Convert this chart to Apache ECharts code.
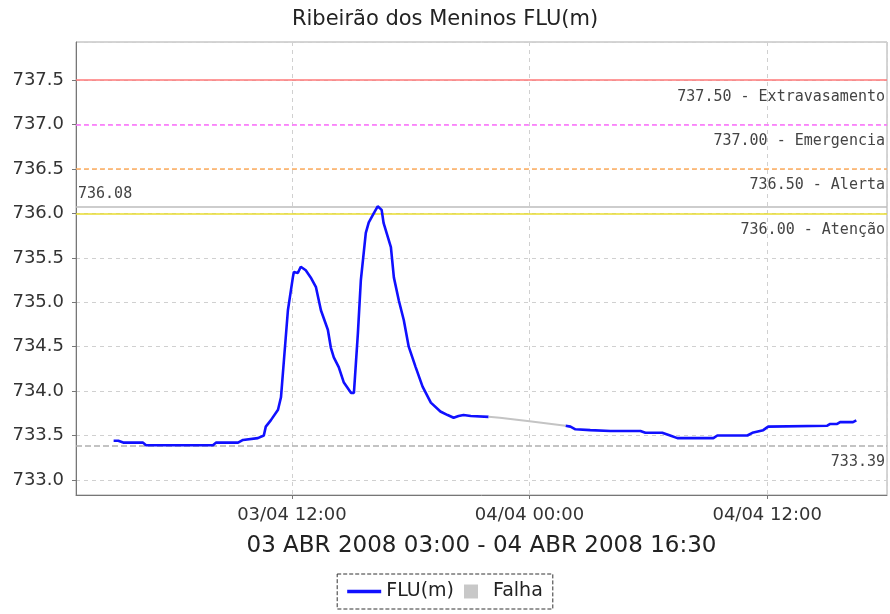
<!DOCTYPE html>
<html>
<head>
<meta charset="utf-8">
<script src="https://cdn.jsdelivr.net/npm/echarts@6/dist/echarts.min.js"></script>
<style>html,body{margin:0;padding:0;background:#fff}#c{width:890px;height:614px}</style>
</head>
<body>
<div id="c"></div>
<script>
const titleText = 'Ribeirão dos Meninos FLU(m)';
const xAxisName = '03 ABR 2008 03:00 - 04 ABR 2008 16:30';
const seriesNames = ['FLU(m)', 'Falha'];

const fluTimes = [
  '2008-04-03 03:00','2008-04-03 03:14','2008-04-03 03:29','2008-04-03 04:29','2008-04-03 04:38',
  '2008-04-03 08:01','2008-04-03 08:10','2008-04-03 09:17','2008-04-03 09:32','2008-04-03 10:17',
  '2008-04-03 10:35','2008-04-03 10:41','2008-04-03 10:56','2008-04-03 11:18','2008-04-03 11:27',
  '2008-04-03 11:36','2008-04-03 11:48','2008-04-03 12:03','2008-04-03 12:06','2008-04-03 12:18',
  '2008-04-03 12:27','2008-04-03 12:42','2008-04-03 12:57','2008-04-03 13:13','2008-04-03 13:28',
  '2008-04-03 13:49','2008-04-03 13:58','2008-04-03 14:07','2008-04-03 14:22','2008-04-03 14:37',
  '2008-04-03 14:59','2008-04-03 15:08','2008-04-03 15:20','2008-04-03 15:29','2008-04-03 15:44',
  '2008-04-03 15:53','2008-04-03 16:08','2008-04-03 16:20','2008-04-03 16:32','2008-04-03 16:38',
  '2008-04-03 17:00','2008-04-03 17:09','2008-04-03 17:24','2008-04-03 17:39','2008-04-03 17:54',
  '2008-04-03 18:15','2008-04-03 18:36','2008-04-03 19:01','2008-04-03 19:30','2008-04-03 19:52',
  '2008-04-03 20:10','2008-04-03 20:25','2008-04-03 20:40','2008-04-03 21:02','2008-04-03 21:56',
  '2008-04-03 23:50',
  '2008-04-04 01:49','2008-04-04 02:04','2008-04-04 02:19','2008-04-04 03:04','2008-04-04 04:05',
  '2008-04-04 05:36','2008-04-04 05:51','2008-04-04 06:42','2008-04-04 07:06','2008-04-04 07:28',
  '2008-04-04 09:17','2008-04-04 09:29','2008-04-04 11:00','2008-04-04 11:15','2008-04-04 11:48',
  '2008-04-04 12:03','2008-04-04 15:02','2008-04-04 15:11','2008-04-04 15:32','2008-04-04 15:41',
  '2008-04-04 16:20','2008-04-04 16:30'
];
const fluValues = [
  733.44,733.44,733.42,733.42,733.39,
  733.39,733.42,733.42,733.45,733.47,
  733.50,733.60,733.67,733.79,733.93,
  734.35,734.91,735.28,735.34,735.33,
  735.40,735.36,735.28,735.17,734.91,
  734.69,734.49,734.38,734.27,734.10,
  733.98,733.98,734.65,735.25,735.78,
  735.90,736.00,736.08,736.04,735.89,
  735.62,735.28,735.02,734.80,734.50,
  734.27,734.05,733.87,733.77,733.73,
  733.70,733.72,733.73,733.72,733.71,
  null,
  733.61,733.60,733.57,733.56,733.55,
  733.55,733.53,733.53,733.50,733.47,
  733.47,733.50,733.50,733.53,733.56,
  733.60,733.61,733.63,733.63,733.65,
  733.65,733.67
];

const falhaTimes = ['2008-04-03 21:56','2008-04-03 22:30','2008-04-04 00:00','2008-04-04 01:49'];
const falhaValues = [733.71, 733.70, 733.66, 733.61];

const limitValues = [737.50, 737.00, 736.50, 736.00];
const limitLabels = ['737.50 - Extravasamento', '737.00 - Emergencia', '736.50 - Alerta', '736.00 - Atenção'];
const maxValue = 736.08;
const minValue = 733.39;

const xMin = '2008-04-03 01:06';
const xMax = '2008-04-04 18:03';
const yMin = 732.83;
const yMax = 737.93;

const limitColors = ['#ff7878', '#ff70ff', '#ffae60', '#e8dc30'];
const limitTypes = ['solid', [5, 3], [5, 3], 'solid'];

const fluData = fluTimes.map((t, i) => [t, fluValues[i]]);
const falhaData = falhaTimes.map((t, i) => [t, falhaValues[i]]);

const labelFont = { fontFamily: 'DejaVu Sans Mono', fontSize: 15, color: '#444' };

const markLines = [];
markLines.push({
  yAxis: maxValue,
  lineStyle: { color: '#bdbdbd', type: 'solid', width: 1.5 },
  label: Object.assign({ show: true, position: 'insideStartTop', formatter: maxValue.toFixed(2), distance: [2, 5] }, labelFont)
});
markLines.push({
  yAxis: minValue,
  lineStyle: { color: '#b0b0b0', type: [6, 3], width: 1.5 },
  label: Object.assign({ show: true, position: 'insideEndBottom', formatter: minValue.toFixed(2), distance: [2, 9] }, labelFont)
});
limitValues.forEach((v, i) => markLines.push({
  yAxis: v,
  lineStyle: { color: limitColors[i], type: limitTypes[i], width: 1.5, opacity: 1 },
  label: Object.assign({ show: true, position: 'insideEndBottom', formatter: limitLabels[i], distance: [2, 9] }, labelFont)
}));

const chart = echarts.init(document.getElementById('c'));
chart.setOption({
  animation: false,
  backgroundColor: '#fff',
  title: {
    text: titleText, left: 'center', top: 4,
    textStyle: { fontFamily: 'DejaVu Sans', fontSize: 21, fontWeight: 'normal', color: '#222' }
  },
  grid: { left: 76, top: 42, right: 3, bottom: 119, show: true, borderColor: '#aaa', borderWidth: 1, outerBoundsMode: 'none', containLabel: false },
  xAxis: {
    type: 'time', min: xMin, max: xMax, splitNumber: 3,
    name: xAxisName, nameLocation: 'middle', nameGap: 40,
    nameTextStyle: { fontFamily: 'DejaVu Sans', fontSize: 23, color: '#222' },
    axisLine: { lineStyle: { color: '#777' } },
    axisTick: { show: true, length: 4, lineStyle: { color: '#777' } },
    axisLabel: {
      fontFamily: 'DejaVu Sans', fontSize: 18, color: '#333', margin: 11,
      formatter: (v) => echarts.time.format(v, '{dd}/{MM} {HH}:{mm}', false),
      showMinLabel: false, showMaxLabel: false
    },
    splitLine: { show: true, lineStyle: { color: '#d0d0d0', type: [4, 4] } }
  },
  yAxis: {
    type: 'value', min: yMin, max: yMax, splitNumber: 10,
    axisLine: { show: true, lineStyle: { color: '#777' } },
    axisTick: { show: true, length: 4, lineStyle: { color: '#777' } },
    axisLabel: {
      fontFamily: 'DejaVu Sans', fontSize: 18, color: '#333', margin: 12,
      formatter: (v) => v.toFixed(1), showMinLabel: false, showMaxLabel: false
    },
    splitLine: { show: true, lineStyle: { color: '#d0d0d0', type: [4, 4] } }
  },
  visualMap: {
    show: false, type: 'piecewise', seriesIndex: 0, dimension: 1,
    pieces: [{ gt: 736.0, lte: 740, color: '#f0d020' }, { gte: 730, lte: 736.0, color: '#1010ff' }],
    outOfRange: { color: '#1010ff' }
  },
  legend: {
    bottom: 5, left: 'center',
    padding: [8, 10], itemGap: 10, itemWidth: 34, itemHeight: 14,
    borderColor: '#333', borderWidth: 1, borderType: 'dashed',
    textStyle: { fontFamily: 'DejaVu Sans', fontSize: 19, color: '#222' },
    data: [
      { name: seriesNames[0], icon: 'path://M0,0h30v3h-30z', itemStyle: { color: '#1010ff' } },
      { name: seriesNames[1], icon: 'path://M0,0h10v10h-10z', itemStyle: { color: '#c8c8c8' } }
    ]
  },
  series: [
    {
      name: seriesNames[0], type: 'line', data: fluData, showSymbol: false, symbol: 'none',
      connectNulls: false, z: 3,
      lineStyle: { color: '#1010ff', width: 2.6 },
      itemStyle: { color: '#1010ff' },
      markLine: { symbol: 'none', silent: true, z: 2, data: markLines }
    },
    {
      name: seriesNames[1], type: 'line', data: falhaData, showSymbol: false, symbol: 'none',
      lineStyle: { color: '#c4c4c4', width: 2 },
      itemStyle: { color: '#c8c8c8' }
    }
  ]
});
</script>
</body>
</html>
